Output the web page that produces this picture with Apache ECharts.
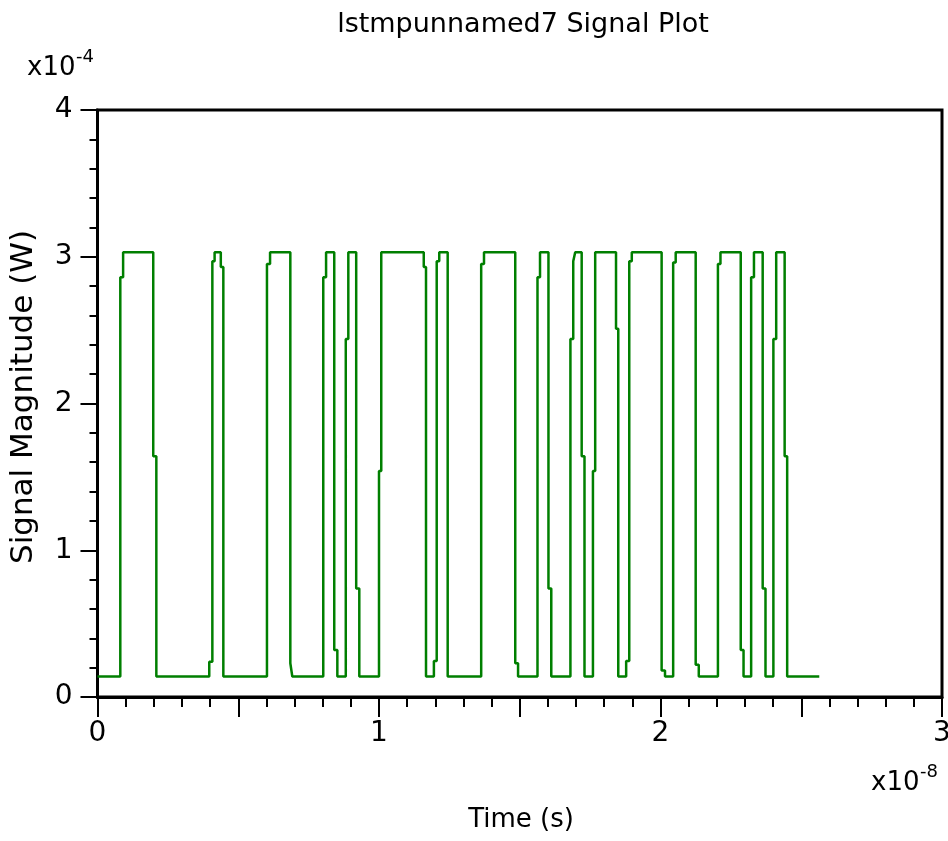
<!DOCTYPE html>
<html>
<head>
<meta charset="utf-8">
<script src="https://cdn.jsdelivr.net/npm/echarts@6/dist/echarts.min.js"></script>
<style>
html,body{margin:0;padding:0;background:#fff;}
#chart{width:948px;height:841px;}
</style>
</head>
<body>
<div id="chart"></div>
<script>
// Time values in units of 1e-8 s, signal values in units of 1e-4 W
const times = [0, 0.081, 0.091, 0.198, 0.209, 0.397, 0.408, 0.416, 0.438, 0.447,
  0.602, 0.613, 0.685, 0.692, 0.802, 0.812, 0.841, 0.852, 0.882, 0.891,
  0.919, 0.930, 1.000, 1.008, 1.159, 1.167, 1.195, 1.205, 1.214, 1.244,
  1.363, 1.373, 1.484, 1.494, 1.563, 1.572, 1.602, 1.612, 1.680, 1.690,
  1.697, 1.720, 1.730, 1.760, 1.768, 1.842, 1.850, 1.878, 1.889, 1.898,
  2.004, 2.016, 2.045, 2.054, 2.125, 2.136, 2.204, 2.213, 2.285, 2.295,
  2.322, 2.332, 2.363, 2.373, 2.401, 2.411, 2.441, 2.450, 2.564];
const values = [0.14, 2.86, 3.03, 1.64, 0.14, 0.24, 2.97, 3.03, 2.93, 0.14,
  2.95, 3.03, 0.23, 0.14, 2.86, 3.03, 0.32, 0.14, 2.44, 3.03,
  0.74, 0.14, 1.54, 3.03, 2.93, 0.14, 0.245, 2.97, 3.03, 0.14,
  2.95, 3.03, 0.23, 0.14, 2.86, 3.03, 0.74, 0.14, 2.44, 2.97,
  3.03, 1.64, 0.14, 1.54, 3.03, 2.51, 0.14, 0.245, 2.97, 3.03,
  0.18, 0.14, 2.96, 3.03, 0.22, 0.14, 2.95, 3.03, 0.32, 0.14,
  2.86, 3.03, 0.74, 0.14, 2.44, 3.03, 1.64, 0.14, 0.14];
const xTickLabels = ['0', '1', '2', '3'];
const yTickLabels = ['0', '1', '2', '3', '4'];
const titleText = 'lstmpunnamed7 Signal Plot';
const xName = 'Time (s)';
const yName = 'Signal Magnitude (W)';

const FONT = '"DejaVu Sans", sans-serif';
const data = times.map((t, i) => [t, values[i]]);

const chart = echarts.init(document.getElementById('chart'), null, {renderer: 'canvas'});
chart.setOption({
  animation: false,
  backgroundColor: '#ffffff',
  grid: {
    left: 97.5, right: 6, top: 110, bottom: 144,
    outerBoundsMode: 'none', containLabel: false,
    show: true, borderColor: '#000', borderWidth: 3, backgroundColor: 'transparent'
  },
  xAxis: {
    type: 'value', min: 0, max: 3, interval: 0.5,
    axisLine: {show: true, lineStyle: {color: '#000', width: 3}},
    axisTick: {show: true, length: 20, lineStyle: {color: '#000', width: 2}},
    minorTick: {show: true, splitNumber: 5, length: 10, lineStyle: {color: '#000', width: 2}},
    splitLine: {show: false},
    axisLabel: {
      color: '#000', fontFamily: FONT, fontSize: 28, margin: 23,
      showMinLabel: true, showMaxLabel: true,
      formatter: v => {
        const k = Math.round(v * 2);
        return k % 2 === 0 ? xTickLabels[k / 2] : '';
      }
    }
  },
  yAxis: {
    type: 'value', min: 0, max: 4, interval: 1,
    axisLine: {show: true, lineStyle: {color: '#000', width: 3}},
    axisTick: {show: true, length: 17, lineStyle: {color: '#000', width: 2}},
    minorTick: {show: true, splitNumber: 5, length: 8, lineStyle: {color: '#000', width: 2}},
    splitLine: {show: false},
    axisLabel: {
      color: '#000', fontFamily: FONT, fontSize: 28, margin: 25,
      showMinLabel: true, showMaxLabel: true,
      formatter: v => yTickLabels[Math.round(v)]
    }
  },
  series: [{
    type: 'line', data: data, step: 'end', showSymbol: false, symbol: 'none',
    lineStyle: {color: '#007f00', width: 2.5}, z: 1, clip: true
  }],
  graphic: [
    {type: 'text', x: 523, y: 25, style: {text: titleText, font: '27px ' + FONT, fill: '#000', textAlign: 'center', textVerticalAlign: 'middle'}},
    {type: 'text', x: 521, y: 820, style: {text: xName, font: '26px ' + FONT, fill: '#000', textAlign: 'center', textVerticalAlign: 'middle'}},
    {type: 'text', x: 24, y: 397, rotation: Math.PI / 2, style: {text: yName, font: '31px ' + FONT, fill: '#000', textAlign: 'center', textVerticalAlign: 'middle'}},
    {type: 'text', x: 27, y: 68, style: {text: 'x10', font: '26px ' + FONT, fill: '#000', textAlign: 'left', textVerticalAlign: 'middle'}},
    {type: 'text', x: 76, y: 57, style: {text: '-4', font: '18px ' + FONT, fill: '#000', textAlign: 'left', textVerticalAlign: 'middle'}},
    {type: 'text', x: 871, y: 783, style: {text: 'x10', font: '26px ' + FONT, fill: '#000', textAlign: 'left', textVerticalAlign: 'middle'}},
    {type: 'text', x: 920, y: 772, style: {text: '-8', font: '18px ' + FONT, fill: '#000', textAlign: 'left', textVerticalAlign: 'middle'}}
  ]
});
</script>
</body>
</html>
